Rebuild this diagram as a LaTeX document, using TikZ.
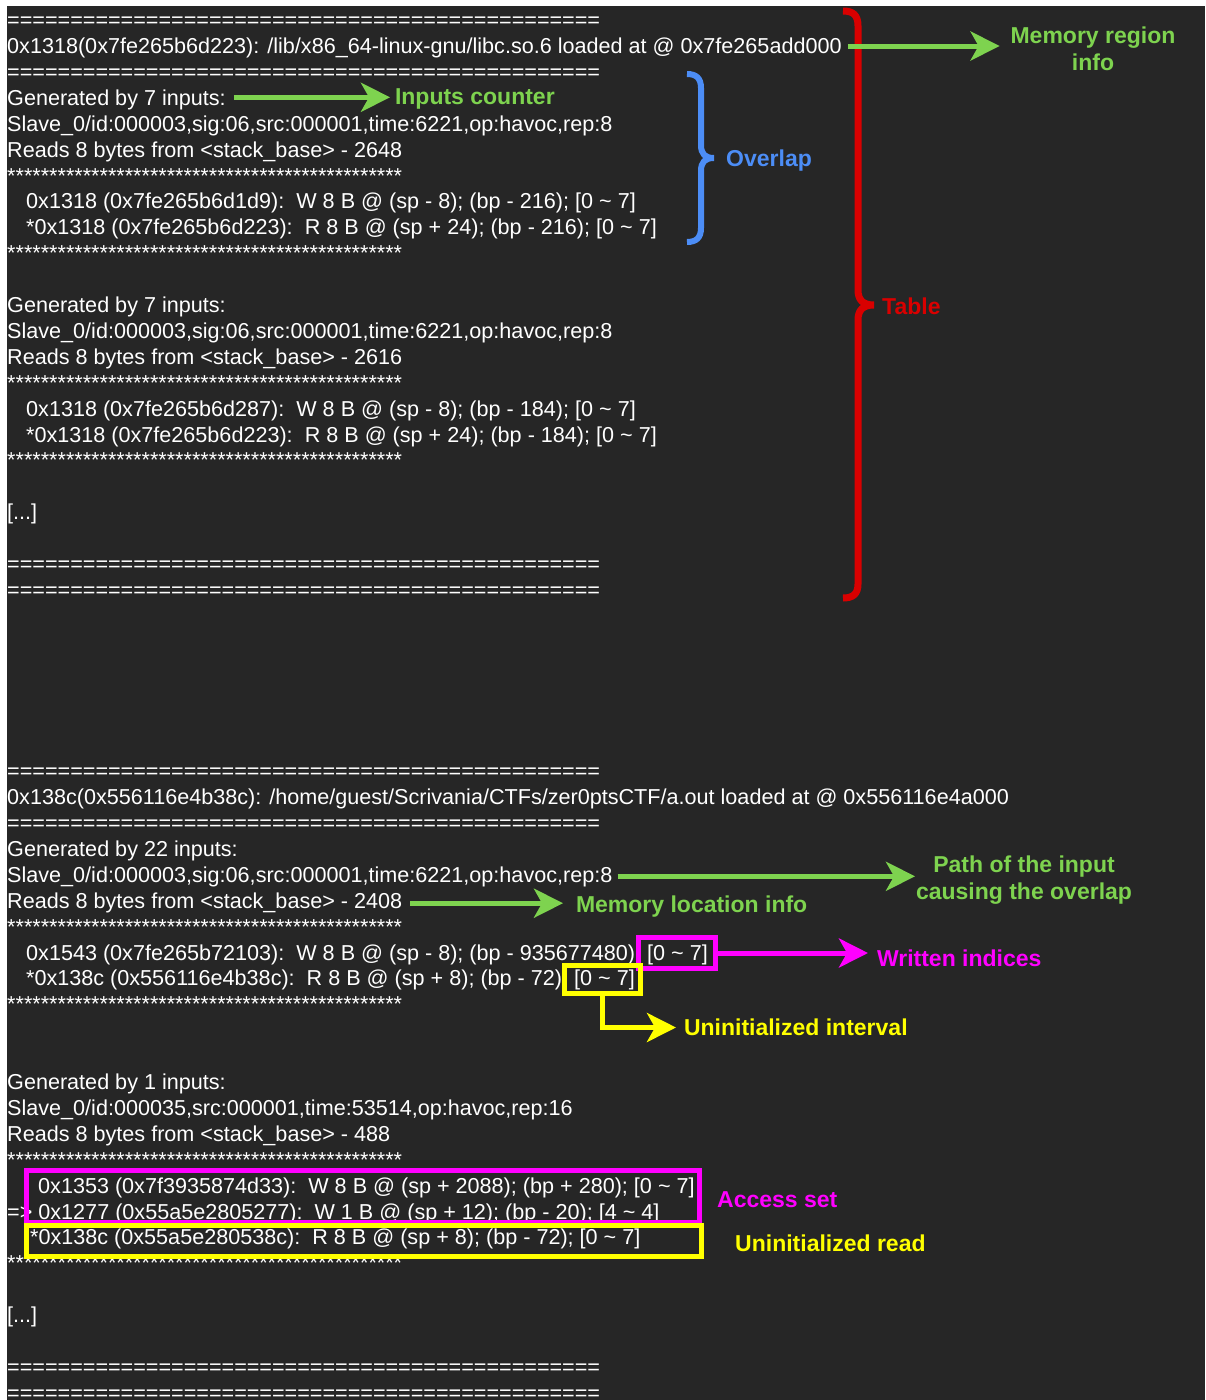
\documentclass[tikz,border=0pt]{standalone}
\usepackage{fontspec}
\setmainfont{Liberation Sans}
\usetikzlibrary{arrows.meta,calc}

\definecolor{termbg}{HTML}{262626}
\definecolor{anngreen}{HTML}{7ED34F}
\definecolor{annblue}{HTML}{4C8DF6}
\definecolor{annred}{HTML}{D90000}
\definecolor{annmag}{HTML}{FF00FF}
\definecolor{annyel}{HTML}{FFFF00}

% separator rows of the log
\newcommand{\eqline}{===============================================}
\newcommand{\starline}{***********************************************}
\newcommand{\tild}{\textasciitilde}
% one row of terminal output: name, x, row index, text
\newcommand{\termrow}[4]{\node[txt] (#1) at (#2,{27.6+25.9*#3}) {#4};}

\tikzset{
  txt/.style={anchor=base west, inner sep=0pt, text=white,
              font=\fontsize{21.6}{26}\selectfont},
  lbl/.style={inner sep=0pt, align=center,
              font=\bfseries\fontsize{23}{27}\selectfont},
  tipshape/.style={-{Stealth[length=29pt,width=29pt,inset=8pt]}},
  garrow/.style={draw=anngreen, line width=5pt, tipshape},
  marrow/.style={draw=annmag, line width=5pt, tipshape},
  yarrow/.style={draw=annyel, line width=5pt, tipshape},
  brace/.style={line width=#1, line cap=butt},
}

\begin{document}
\begin{tikzpicture}[x=1pt,y=-1pt]
\useasboundingbox (0,0) rectangle (1205,1400);
\fill[white] (0,0) rectangle (1205,1400);
\fill[termbg] (7,6) rectangle (1205,1400);

% ---- first region: libc ----
\termrow{L0}{7}{0}{\eqline}
\termrow{L1}{7}{1}{0x1318(0x7fe265b6d223): /lib/x86\_64-linux-gnu/libc.so.6 loaded at @ 0x7fe265add000}
\termrow{L2}{7}{2}{\eqline}
\termrow{L3}{7}{3}{Generated by 7 inputs:}
\termrow{L4}{7}{4}{Slave\_0/id:000003,sig:06,src:000001,time:6221,op:havoc,rep:8}
\termrow{L5}{7}{5}{Reads 8 bytes from <stack\_base> - 2648}
\termrow{L6}{7}{6}{\starline}
\termrow{L7}{26}{7}{0x1318 (0x7fe265b6d1d9):\ \ W 8 B @ (sp - 8); (bp - 216); [0 \tild\ 7]}
\termrow{L8}{26}{8}{*0x1318 (0x7fe265b6d223):\ \ R 8 B @ (sp + 24); (bp - 216); [0 \tild\ 7]}
\termrow{L9}{7}{9}{\starline}
\termrow{L11}{7}{11}{Generated by 7 inputs:}
\termrow{L12}{7}{12}{Slave\_0/id:000003,sig:06,src:000001,time:6221,op:havoc,rep:8}
\termrow{L13}{7}{13}{Reads 8 bytes from <stack\_base> - 2616}
\termrow{L14}{7}{14}{\starline}
\termrow{L15}{26}{15}{0x1318 (0x7fe265b6d287):\ \ W 8 B @ (sp - 8); (bp - 184); [0 \tild\ 7]}
\termrow{L16}{26}{16}{*0x1318 (0x7fe265b6d223):\ \ R 8 B @ (sp + 24); (bp - 184); [0 \tild\ 7]}
\termrow{L17}{7}{17}{\starline}
\termrow{L19}{7}{19}{[...]}
\termrow{L21}{7}{21}{\eqline}
\termrow{L22}{7}{22}{\eqline}

% ---- second region: a.out ----
\termrow{L29}{7}{29}{\eqline}
\termrow{L30}{7}{30}{0x138c(0x556116e4b38c): /home/guest/Scrivania/CTFs/zer0ptsCTF/a.out loaded at @ 0x556116e4a000}
\termrow{L31}{7}{31}{\eqline}
\termrow{L32}{7}{32}{Generated by 22 inputs:}
\termrow{L33}{7}{33}{Slave\_0/id:000003,sig:06,src:000001,time:6221,op:havoc,rep:8}
\termrow{L34}{7}{34}{Reads 8 bytes from <stack\_base> - 2408}
\termrow{L35}{7}{35}{\starline}
\termrow{L36}{26}{36}{0x1543 (0x7fe265b72103):\ \ W 8 B @ (sp - 8); (bp - 935677480); [0 \tild\ 7]}
\termrow{L37}{26}{37}{*0x138c (0x556116e4b38c):\ \ R 8 B @ (sp + 8); (bp - 72); [0 \tild\ 7]}
\termrow{L38}{7}{38}{\starline}
\termrow{L41}{7}{41}{Generated by 1 inputs:}
\termrow{L42}{7}{42}{Slave\_0/id:000035,src:000001,time:53514,op:havoc,rep:16}
\termrow{L43}{7}{43}{Reads 8 bytes from <stack\_base> - 488}
\termrow{L44}{7}{44}{\starline}
\termrow{L45}{38}{45}{0x1353 (0x7f3935874d33):\ \ W 8 B @ (sp + 2088); (bp + 280); [0 \tild\ 7]}
\termrow{L46}{7}{46}{=> 0x1277 (0x55a5e2805277):\ \ W 1 B @ (sp + 12); (bp - 20); [4 \tild\ 4]}
\termrow{L47}{30}{47}{*0x138c (0x55a5e280538c):\ \ R 8 B @ (sp + 8); (bp - 72); [0 \tild\ 7]}
\termrow{L48}{7}{48}{\starline}
\termrow{L50}{7}{50}{[...]}
\termrow{L52}{7}{52}{\eqline}
\termrow{L53}{7}{53}{\eqline}

% ---- braces ----
\draw[annred, brace=7pt]
  (843,11) .. controls (853,11) and (858,15) .. (858,26) -- (858,290)
  .. controls (858,300) and (863,305) .. (874,305)
  .. controls (863,305) and (858,310) .. (858,320) -- (858,584)
  .. controls (858,594) and (853,598) .. (843,598);
\draw[annblue, brace=6pt]
  (687,74) .. controls (696,74) and (701,78) .. (701,88) -- (701,145)
  .. controls (701,154) and (705,158) .. (714,158)
  .. controls (705,158) and (701,162) .. (701,171) -- (701,228)
  .. controls (701,238) and (696,242) .. (687,242);
\node[lbl, text=annred, anchor=west] (tablbl) at (882,306) {Table};
\node[lbl, text=annblue, anchor=west] (ovlbl) at (726,161) {Overlap};

% ---- highlight boxes ----
\node[draw=annmag, line width=5pt, minimum width=77pt, minimum height=31pt, inner sep=0pt]
  (wbox) at (677,953) {};
\node[draw=annyel, line width=5pt, minimum width=76pt, minimum height=28pt, inner sep=0pt]
  (ubox) at (602,979.5) {};
\node[draw=annmag, line width=5pt, minimum width=673pt, minimum height=52pt, inner sep=0pt]
  (accbox) at (362.5,1196) {};
\node[draw=annyel, line width=5pt, minimum width=675pt, minimum height=31pt, inner sep=0pt]
  (readbox) at (363.5,1240.5) {};

% ---- labels ----
\node[lbl, text=anngreen, outer xsep=11pt] (memlbl) at (1093,48.5) {Memory region\\info};
\node[lbl, text=anngreen, anchor=west, outer xsep=5pt] (inlbl) at (390,99) {Inputs counter};
\node[lbl, text=anngreen, outer xsep=1pt] (pathlbl) at (1024,880) {Path of the input\\causing the overlap};
\node[lbl, text=anngreen, anchor=west, outer xsep=13pt] (mllbl) at (563,907) {Memory location info};
\node[lbl, text=annmag, anchor=west, outer xsep=9pt] (wilbl) at (868,958) {Written indices};
\node[lbl, text=annyel, anchor=west, outer xsep=8pt] (uilbl) at (676,1027.5) {Uninitialized interval};
\node[lbl, text=annmag, anchor=west] (acclbl) at (717,1200) {Access set};
\node[lbl, text=annyel, anchor=west] (rdlbl) at (735,1243) {Uninitialized read};

% ---- arrows ----
\coordinate (g1) at ([shift={(6,-7.5)}]L1.base east);
\coordinate (g2) at ([shift={(8,-8)}]L3.base east);
\coordinate (g3) at ([shift={(5,-6)}]L33.base east);
\coordinate (g4) at ([shift={(8,-5)}]L34.base east);
\draw[garrow] (g1) -- (g1 -| memlbl.west);
\draw[garrow] (g2) -- (g2 -| inlbl.west);
\draw[garrow] (g3) -- (g3 -| pathlbl.west);
\draw[garrow] (g4) -- (g4 -| mllbl.west);
\draw[marrow] (wbox.east) -- (wbox.east -| wilbl.west);
\draw[yarrow] (ubox.south) |- (uilbl.west);
\end{tikzpicture}
\end{document}
